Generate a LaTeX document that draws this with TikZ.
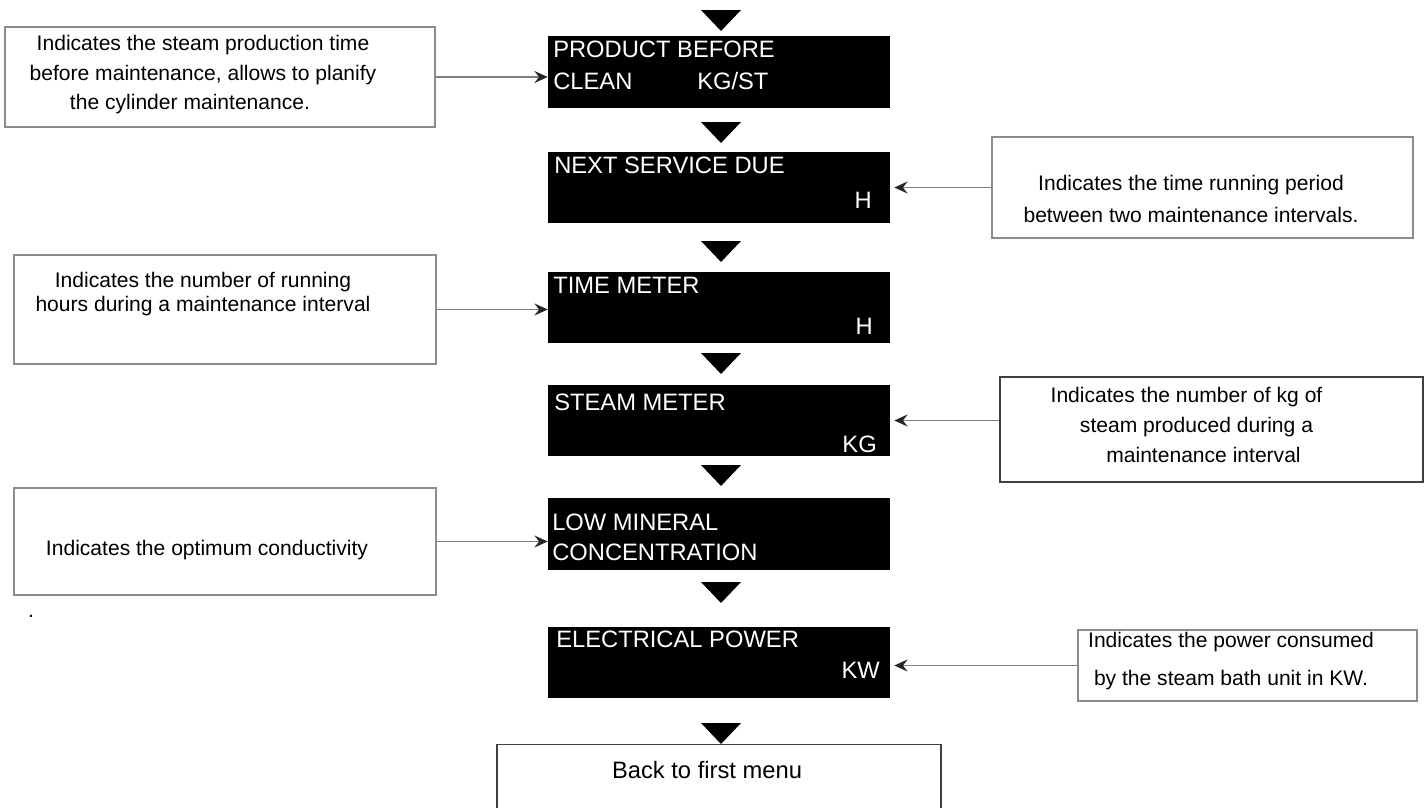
\documentclass[tikz,border=0pt]{standalone}
\usepackage{fontspec}
\setmainfont{Liberation Sans}
\usetikzlibrary{arrows.meta}
\definecolor{boxedge}{HTML}{8C8C8C}
\definecolor{darkedge}{HTML}{404040}
\definecolor{linkgray}{HTML}{7F7F7F}

\begin{document}
\begin{tikzpicture}[x=0.75pt, y=-0.75pt,
  screen/.style={rectangle, fill=black, minimum width=256.5pt,
                 minimum height=53.5pt, inner sep=0pt},
  scr/.style={text=white, inner sep=0pt, font=\fontsize{17.8pt}{20pt}\selectfont},
  desc/.style={rectangle, draw=boxedge, line width=1.3pt, inner sep=0pt},
  thin/.style={rectangle, draw=darkedge, line width=0.8pt, inner sep=0pt},
  dtxt/.style={align=center, inner sep=0pt, font=\fontsize{15.8pt}{22pt}\selectfont},
  link/.style={draw=linkgray, line width=1.3pt,
               -{Stealth[length=10pt, width=9pt, inset=3.5pt, color=black!85]}},
]
\useasboundingbox (0,0) rectangle (1428,807);
% menu screens (black display boxes)
\node[screen, minimum height=54pt] (s1) at (719,72) {};
\node[screen] (s2) at (719,187.5) {};
\node[screen] (s3) at (719,307.5) {};
\node[screen] (s4) at (719,420.5) {};
\node[screen, minimum height=54pt] (s5) at (719,534) {};
\node[screen] (s6) at (719,662.5) {};
% screen texts
\node[scr, anchor=base west] (s1a) at (553,57) {PRODUCT BEFORE};
\node[scr, anchor=base west] (s1b) at (553,89) {CLEAN};
\node[scr, anchor=base west] (s1c) at (697,89) {KG/ST};
\node[scr, anchor=base west] (s2a) at (554,173) {NEXT SERVICE DUE};
\node[scr, anchor=base east] (s2b) at (872,208) {H};
\node[scr, anchor=base west] (s3a) at (553,293) {TIME METER};
\node[scr, anchor=base east] (s3b) at (873,334) {H};
\node[scr, anchor=base west] (s4a) at (554,410) {STEAM METER};
\node[scr, anchor=base east] (s4b) at (877,452) {KG};
\node[scr, anchor=base west] (s5a) at (552,530) {LOW MINERAL};
\node[scr, anchor=base west] (s5b) at (552,560) {CONCENTRATION};
\node[scr, anchor=base west] (s6a) at (556,647) {ELECTRICAL POWER};
\node[scr, anchor=base east] (s6b) at (880,678) {KW};
% down markers between screens
\foreach \ty in {10,122,241,353,465,582,723}
  \fill (701,\ty) -- (741,\ty) -- (721,{\ty+21}) -- cycle;
% back box
\node[thin, minimum width=333pt, minimum height=50pt, anchor=north] (back) at (719,744) {};
\node[inner sep=0pt, font=\fontsize{17.8pt}{20pt}\selectfont, anchor=base] (backt) at (707,778) {Back to first menu};
% explanation boxes, left side
\node[desc, minimum width=322.5pt, minimum height=75pt] (l1) at (220,77) {};
\node[dtxt, font=\fontsize{15.8pt}{22.1pt}\selectfont] (l1t) at (190,75)
  {\hspace*{19.5pt}Indicates the steam production time\\\hspace*{19.5pt}before maintenance, allows to planify\\the cylinder maintenance.};
\node[desc, minimum width=316.5pt, minimum height=81.75pt] (l2) at (225,309.5) {};
\node[dtxt, font=\fontsize{15.8pt}{17.6pt}\selectfont] (l2t) at (203,294)
  {Indicates the number of running\\hours during a maintenance interval};
\node[desc, minimum width=316.5pt, minimum height=80.25pt] (l3) at (225,541.5) {};
\node[dtxt] (l3t) at (207,550.5) {Indicates the optimum conductivity};
\node[dtxt] (dot) at (31,616) {.};
% explanation boxes, right side
\node[desc, minimum width=315.75pt, minimum height=75.75pt] (r1) at (1202.5,187.5) {};
\node[dtxt, font=\fontsize{15.8pt}{24pt}\selectfont] (r1t) at (1191,198.5)
  {Indicates the time running period\\between two maintenance intervals.};
\node[thin, minimum width=317.25pt, minimum height=78.75pt] (r2) at (1211.5,429.5) {};
\node[dtxt, font=\fontsize{15.8pt}{22.5pt}\selectfont] (r2t) at (1186.5,425)
  {Indicates the number of kg of\\\hspace*{15pt}steam produced during a\\\hspace*{25.5pt}maintenance interval};
\node[desc, minimum width=254.25pt, minimum height=53.25pt] (r3) at (1247.5,665.5) {};
\node[dtxt, font=\fontsize{15.8pt}{28.5pt}\selectfont] (r3t) at (1231,661.5)
  {Indicates the power consumed\\by the steam bath unit in KW.};
% pointers to the screens
\draw[link] (l1.east) -- (l1.east -| s1.west);
\draw[link] (l2.east) -- (l2.east -| s3.west);
\draw[link] (l3.east) -- (l3.east -| s5.west);
\draw[link, shorten >=3pt] (r1.west) -- (r1.west -| s2.east);
\draw[link, shorten >=3pt] (s4.east -| r2.west) -- (s4.east);
\draw[link, shorten >=3pt] (r3.west) -- (r3.west -| s6.east);
\end{tikzpicture}
\end{document}
